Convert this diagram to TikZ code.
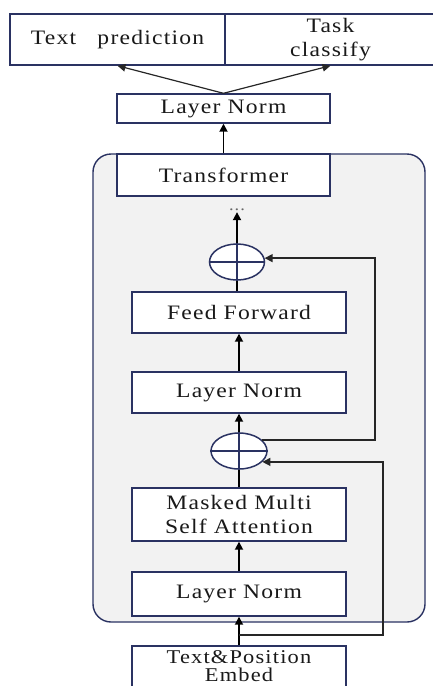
\documentclass[tikz,border=0pt]{standalone}
\usepackage{fontspec}
\setmainfont{Liberation Serif}[FakeStretch=1.15,LetterSpace=6]
\usetikzlibrary{arrows.meta,shapes.geometric}
\definecolor{navy}{RGB}{42,50,98}
\definecolor{panel}{RGB}{242,242,242}
\begin{document}
\begin{tikzpicture}[x=1pt,y=-1pt,
  box/.style={draw=navy,line width=1.4pt,fill=white,inner sep=0pt,align=center,
    font=\fontsize{20.5}{24}\selectfont,text=black!90},
  addop/.style={ellipse,draw=navy,line width=1.5pt,fill=white,inner sep=0pt,
    minimum width=55pt,minimum height=36pt},
  arr/.style={-{Triangle[length=8pt,width=8pt]},line width=1.7pt,black},
  thinarr/.style={-{Triangle[length=8pt,width=7.5pt]},line width=1.2pt,black!85},
  res/.style={line width=1.3pt,black!85},
  cross/.style={navy,line width=1.3pt}]
\useasboundingbox (0,0) rectangle (432,686);
% container
\node[draw=navy,fill=panel,line width=1.4pt,rounded corners=18pt,
  minimum width=332pt,minimum height=468pt,inner sep=0pt] (blk) at (259,388) {};
% top boxes
\node[box,minimum width=215pt,minimum height=51pt] (tp) at (117.5,39.5) {Text\ \ \ prediction};
\node[box,minimum width=211pt,minimum height=51pt] (tc) at (330.5,39.5) {Task\\classify};
\node[box,minimum width=213pt,minimum height=29pt] (ln0) at (223.5,108.5) {Layer Norm};
% inside block
\node[box,minimum width=213pt,minimum height=42pt] (tf) at (223.5,175) {Transformer};
\node[font=\fontsize{16}{16}\selectfont,text=black!60,inner sep=1pt] (dots) at (237,210) {...};
\node[addop] (add1) at (237,262) {};
\node[box,minimum width=214pt,minimum height=41pt] (ff) at (239,312.5) {Feed Forward};
\node[box,minimum width=214pt,minimum height=41pt] (ln1) at (239,392.5) {Layer Norm};
\node[addop,minimum width=56pt] (add2) at (239,451) {};
\node[box,minimum width=214pt,minimum height=53pt] (mm) at (239,514.5) {Masked Multi\\Self Attention};
\node[box,minimum width=214pt,minimum height=62pt] (emb) at (239,677) {};
\node[font=\fontsize{19.5}{18}\selectfont,text=black!90,align=center,inner sep=0pt,anchor=north] (embt) at (239,650) {Text\&Position\\Embed};
\node[box,minimum width=214pt,minimum height=44pt] (ln2) at (239,594) {Layer Norm};
% crosses
\draw[cross] (add1.west) -- (add1.east) (add1.north) -- (add1.south);
\draw[cross] (add2.west) -- (add2.east) (add2.north) -- (add2.south);
% main flow
\draw[arr] (emb.north) -- (ln2.south);
\draw[arr] (ln2.north) -- (mm.south);
\draw[line width=1.7pt] (mm.north) -- (add2.south);
\draw[arr] (add2.north) -- (ln1.south);
\draw[arr] (ln1.north) -- (ff.south);
\draw[line width=1.7pt] (ff.north -| add1.south) -- (add1.south);
\draw[arr] (add1.north) -- (dots.south);
\draw[arr] (tf.north) -- (ln0.south);
\draw[thinarr] (ln0.north) -- (tp.south);
\draw[thinarr] (ln0.north) -- (tc.south);
% residuals
\coordinate (s1) at (239,635);
\coordinate (c1) at (383,635);
\draw[res,-{Triangle[length=8pt,width=8pt]}] (s1) -- (c1) |- (add2.-25);
\coordinate (c2) at (375,350);
\draw[res,-{Triangle[length=8pt,width=8pt]}] (add2.25) -| (c2) |- (add1.8);
\end{tikzpicture}
\end{document}
